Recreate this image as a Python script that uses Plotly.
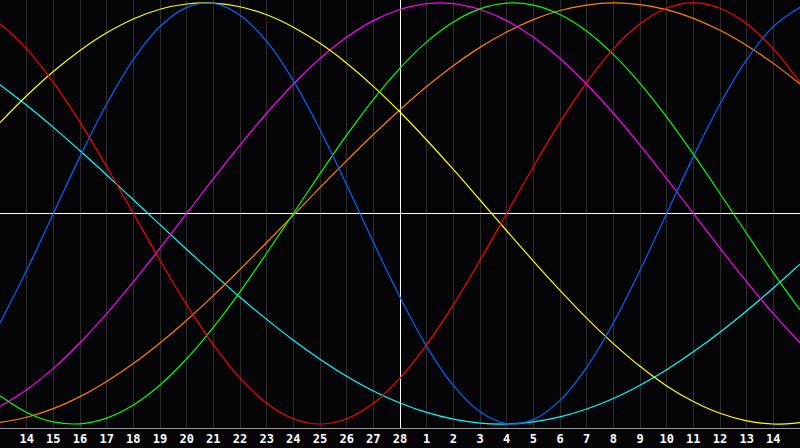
import plotly.graph_objects as go

# day labels along the bottom (first and last are just past the edges)
day_labels = [13, 14, 15, 16, 17, 18, 19, 20, 21, 22, 23, 24, 25, 26, 27, 28,
              1, 2, 3, 4, 5, 6, 7, 8, 9, 10, 11, 12, 13, 14, 15]
day_pos = list(range(-15, 16))

# cycle values, one per day
red = [0.901, 0.782, 0.623, 0.434, 0.222, 0.0, -0.222, -0.434, -0.623, -0.782, -0.901,
       -0.975, -1.0, -0.975, -0.901, -0.782, -0.623, -0.434, -0.222, 0.0, 0.222,
       0.434, 0.623, 0.782, 0.901, 0.975, 1.0, 0.975, 0.901, 0.782, 0.623]
blue = [-0.520, -0.270, 0.0, 0.270, 0.520, 0.731, 0.888, 0.979, 0.998, 0.942, 0.817,
        0.631, 0.398, 0.136, -0.136, -0.398, -0.631, -0.817, -0.942, -0.998, -0.979,
        -0.888, -0.731, -0.520, -0.270, 0.0, 0.270, 0.520, 0.731, 0.888, 0.979]
green = [-0.866, -0.945, -0.990, -0.999, -0.972, -0.910, -0.815, -0.690, -0.541, -0.372,
         -0.189, 0.0, 0.189, 0.372, 0.541, 0.690, 0.815, 0.910, 0.972, 0.999, 0.990,
         0.945, 0.866, 0.756, 0.618, 0.458, 0.282, 0.095, -0.095, -0.282, -0.458]
orange = [-0.992, -0.968, -0.927, -0.870, -0.798, -0.713, -0.615, -0.507, -0.390, -0.266,
          -0.138, -0.008, 0.123, 0.251, 0.375, 0.493, 0.603, 0.702, 0.789, 0.862, 0.921,
          0.964, 0.990, 1.0, 0.992, 0.968, 0.927, 0.870, 0.798, 0.713, 0.615]
magenta = [-0.916, -0.837, -0.736, -0.614, -0.476, -0.325, -0.165, 0.0, 0.165, 0.325,
           0.476, 0.614, 0.736, 0.837, 0.916, 0.969, 0.997, 0.997, 0.969, 0.916, 0.837,
           0.736, 0.614, 0.476, 0.325, 0.165, 0.0, -0.165, -0.325, -0.476, -0.614]
yellow = [0.432, 0.559, 0.674, 0.774, 0.858, 0.924, 0.970, 0.995, 0.999, 0.982, 0.944,
          0.885, 0.808, 0.714, 0.604, 0.482, 0.349, 0.209, 0.064, -0.082, -0.226,
          -0.365, -0.497, -0.618, -0.726, -0.819, -0.893, -0.949, -0.985, -1.0, -0.993]
cyan = [0.612, 0.514, 0.409, 0.298, 0.183, 0.065, -0.053, -0.171, -0.286, -0.398,
        -0.503, -0.602, -0.692, -0.773, -0.843, -0.900, -0.945, -0.977, -0.996, -1.0,
        -0.990, -0.966, -0.929, -0.879, -0.816, -0.742, -0.657, -0.564, -0.462, -0.354, -0.241]

series = [
    (cyan, '#00ffff'),
    (orange, '#ff8000'),
    (magenta, '#ff00ff'),
    (yellow, '#ffff00'),
    (green, '#00ff00'),
    (blue, '#0066ff'),
    (red, '#ff0000'),
]

fig = go.Figure()
for vals, col in series:
    fig.add_trace(go.Scatter(x=day_pos, y=vals, mode='lines', line_shape='spline',
                             line=dict(color=col, width=1.2), showlegend=False,
                             hoverinfo='skip'))

fig.update_layout(
    width=800, height=448,
    margin=dict(l=0, r=0, t=0, b=20),
    paper_bgcolor='#050508',
    plot_bgcolor='#050508',
)
fig.update_xaxes(
    range=[-15, 15],
    tickvals=day_pos[1:-1],
    ticktext=[str(d) for d in day_labels[1:-1]],
    tickfont=dict(family='DejaVu Sans Mono', size=12, color='white', weight='bold'),
    showgrid=True, gridcolor='#2e2e2e', gridwidth=1,
    zeroline=True, zerolinecolor='white', zerolinewidth=1,
    showline=True, linecolor='#999999', linewidth=1, mirror=True,
    ticks='', fixedrange=True,
)
fig.update_yaxes(
    range=[-1.019, 1.014],
    showticklabels=False, showgrid=False,
    zeroline=True, zerolinecolor='white', zerolinewidth=1,
    showline=True, linecolor='#888888', linewidth=1,
    ticks='', fixedrange=True,
)

# page body margin would push the chart off the window edges
fig.write_html("out.html", config={'displayModeBar': False},
               post_script="document.body.style.margin='0';document.body.style.overflow='hidden';")
